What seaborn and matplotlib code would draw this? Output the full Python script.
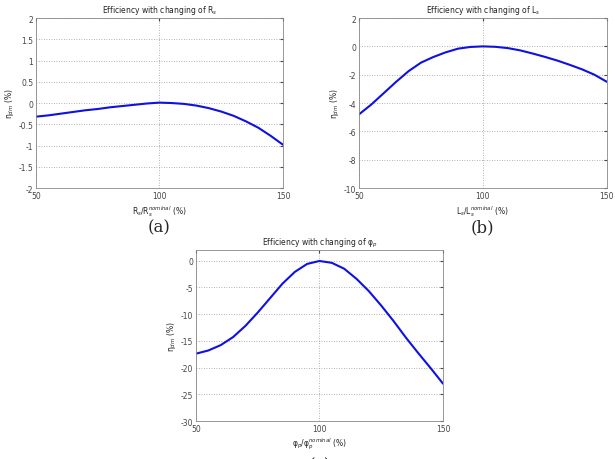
import numpy as np
import pandas as pd
import matplotlib
matplotlib.use("Agg")
import matplotlib.pyplot as plt
import seaborn as sns

# Data
ratio = [50, 55, 60, 65, 70, 75, 80, 85, 90, 95, 100, 105, 110, 115, 120, 125, 130, 135, 140, 145, 150]
eff_rs = [-0.32, -0.29, -0.25, -0.21, -0.17, -0.14, -0.10, -0.07, -0.04, -0.01, 0.01, 0.0, -0.02,
          -0.06, -0.12, -0.20, -0.30, -0.43, -0.58, -0.77, -0.98]
eff_ls = [-4.8, -4.1, -3.3, -2.5, -1.75, -1.15, -0.75, -0.42, -0.16, -0.04, 0.0, -0.03, -0.12,
          -0.28, -0.5, -0.74, -1.0, -1.3, -1.62, -2.0, -2.5]
eff_phi = [-17.4, -16.8, -15.8, -14.3, -12.2, -9.7, -7.0, -4.3, -2.1, -0.6, -0.05, -0.4, -1.5,
           -3.4, -5.7, -8.4, -11.3, -14.4, -17.3, -20.1, -23.0]

titles = ["Efficiency with changing of R$_s$",
          "Efficiency with changing of L$_s$",
          "Efficiency with changing of φ$_p$"]
xlabels = ["R$_s$/R$_s^{nominal}$ (%)",
           "L$_s$/L$_s^{nominal}$ (%)",
           "φ$_p$/φ$_p^{nominal}$ (%)"]
ylabel = "η$_{dm}$ (%)"
panel_tags = ["(a)", "(b)", "(c)"]

sns.set_style("white")
plt.rcParams["font.family"] = ["DejaVu Sans"]
plt.rcParams["mathtext.fontset"] = "dejavusans"

fig = plt.figure(figsize=(6.15, 4.6), dpi=100)

# axes positions (figure fractions)
boxes = [
    [0.0585, 0.589, 0.4016, 0.3696],
    [0.5837, 0.589, 0.4030, 0.3696],
    [0.3187, 0.0826, 0.4016, 0.3717],
]
series = [eff_rs, eff_ls, eff_phi]
ylims = [(-2, 2), (-10, 2), (-30, 2)]
yticks = [np.arange(-2, 2.01, 0.5), np.arange(-10, 2.01, 2), np.arange(-30, 0.01, 5)]

for i in range(3):
    ax = fig.add_axes(boxes[i])
    df = pd.DataFrame({"x": ratio, "y": series[i]})
    sns.lineplot(data=df, x="x", y="y", ax=ax, color="#1010e0", linewidth=1.5)
    ax.set_xlim(50, 150)
    ax.set_ylim(*ylims[i])
    ax.set_xticks([50, 100, 150])
    ax.set_yticks(yticks[i])
    ax.set_yticklabels(["%g" % v for v in yticks[i]])
    ax.grid(True, linestyle=(0, (1, 2)), color="#999999", linewidth=0.6)
    ax.tick_params(axis="both", labelsize=5.5, direction="in", length=2,
                   top=True, right=True, pad=2, colors="#444444")
    for s in ax.spines.values():
        s.set_color("#888888")
        s.set_linewidth(0.6)
    ax.set_title(titles[i], fontsize=5.5, pad=4, color="#222222")
    ax.set_xlabel(xlabels[i], fontsize=5.5, labelpad=2, color="#222222")
    ax.set_ylabel(ylabel, fontsize=5.5, labelpad=2, color="#222222")

fig.text(0.259, 0.504, panel_tags[0], fontsize=12, family="DejaVu Serif", ha="center", va="center")
fig.text(0.785, 0.504, panel_tags[1], fontsize=12, family="DejaVu Serif", ha="center", va="center")
fig.text(0.520, -0.012, panel_tags[2], fontsize=12, family="DejaVu Serif", ha="center", va="center")

fig.savefig("out.png", dpi=100)
